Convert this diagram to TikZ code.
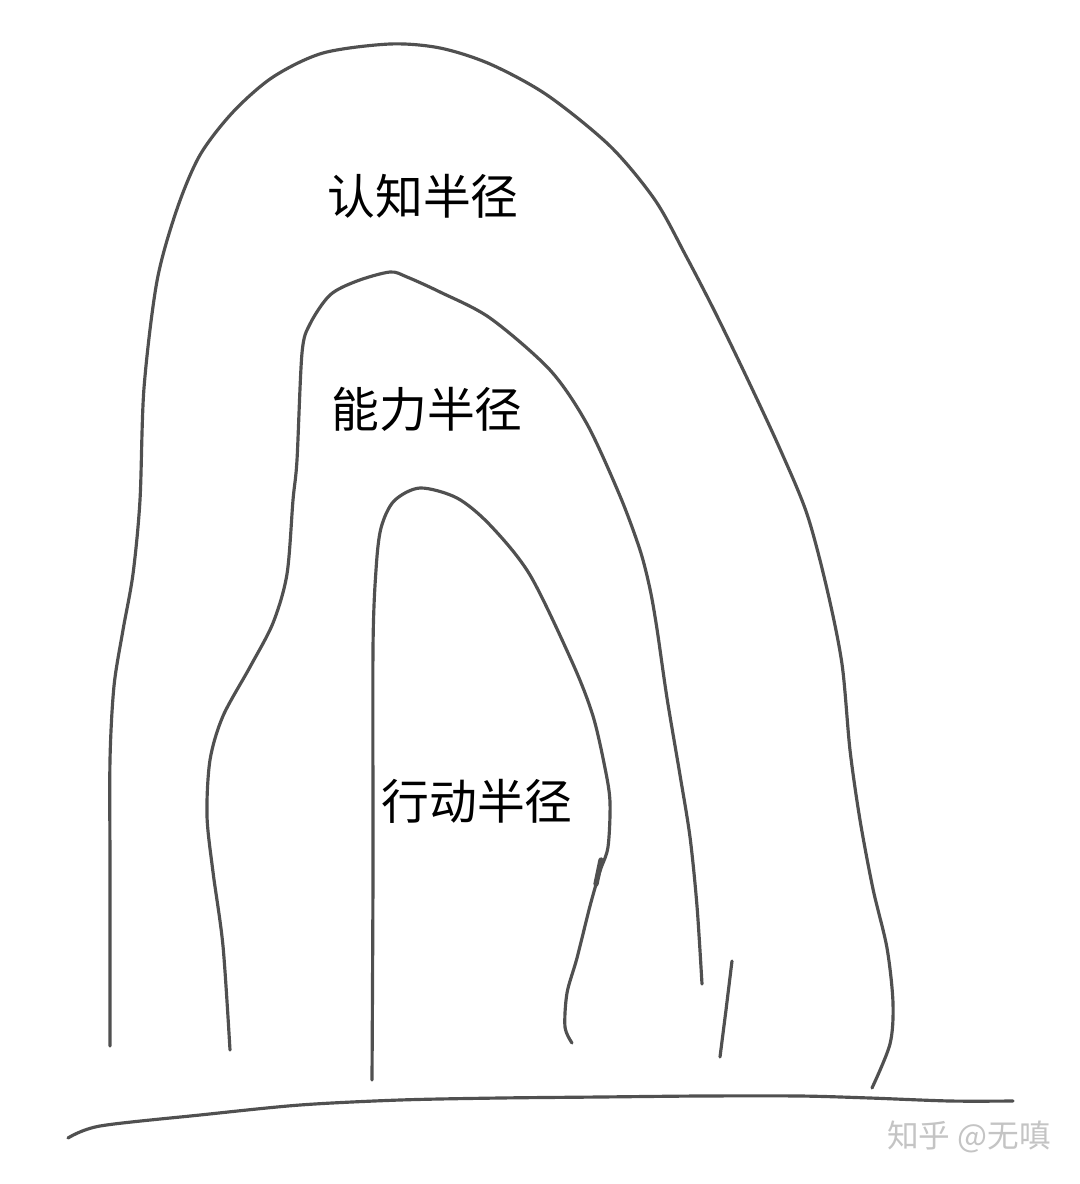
\documentclass[tikz,border=0pt]{standalone}
\usepackage{fontspec}
\newfontfamily\cjk{Noto Sans CJK SC}
\usepackage{xcolor}
\definecolor{pencil}{HTML}{505050}
\definecolor{markGray}{HTML}{C4C4C4}
\usepackage{tikz}

\begin{document}
\begin{tikzpicture}[x=0.01cm, y=-0.01cm,
    sketch/.style={pencil, line width=0.9pt, line cap=round, line join=round},
    radius label/.style={font=\cjk\fontsize{13.6pt}{14pt}\selectfont, text=black},
    watermark/.style={font=\cjk\fontsize{9pt}{10pt}\selectfont, text=markGray}]
  \useasboundingbox[fill=white] (0,0) rectangle (1080,1184);
  % ------- outer arch: cognition -------
  \draw[sketch] plot[smooth, tension=0.5] coordinates {
    (110,1046) (110,872) (110,760) (114,686) (123,630) (133,574) (140,500)
    (144,388) (157,281) (177,209) (200,155) (233,112) (273,77) (323,53)
    (390,44) (440,48) (490,64) (547,95) (610,146) (655,200) (686,256)
    (715,312) (747,378) (780,449) (807,514) (827,589) (842,664) (850,750)
    (860,820) (873,889) (887,948) (893,1003) (890,1044) (872,1088)};
  % ------- middle arch: ability -------
  \draw[sketch] plot[smooth, tension=0.5] coordinates {
    (230,1050) (223,946) (213,872) (207,816) (210,760) (223,716) (250,667)
    (273,623) (287,574) (293,500) (297,460) (302,353) (310,324) (330,295)
    (357,281) (390,272) (407,277) (440,292) (490,318) (550,370) (587,424)
    (620,496) (640,550) (650,589) (657,629) (667,698) (680,775) (690,837)
    (697,906) (702,984)};
  \draw[sketch] (732,961) -- (726,1010) -- (720,1057);
  % ------- inner arch: action -------
  \draw[sketch] plot[smooth, tension=0.5] coordinates {
    (372,1080) (373,872) (373,649) (376,570) (381,528) (394,501) (420,488)
    (457,498) (490,525) (530,575) (573,664) (593,716) (605,768) (610,802)
    (608,847) (600,871) (590,906) (577,958) (567,993) (565,1027) (572,1043)};
  \draw[sketch, line width=1.5pt] (601,860) -- (596,884);
  % ------- ground -------
  \draw[sketch] plot[smooth, tension=0.5] coordinates {
    (68,1138) (100,1126) (200,1115) (300,1105) (400,1100) (500,1098)
    (600,1097) (700,1096) (800,1096) (870,1098) (950,1101) (1013,1101)};
  % ------- labels -------
  \node[radius label] (cognition) at (423,196) {认知半径};
  \node[radius label] (ability) at (427,409) {能力半径};
  \node[radius label] (action) at (477,801) {行动半径};
  \node[watermark] (mark) at (969,1137) {知乎 @无嗔};
\end{tikzpicture}
\end{document}
